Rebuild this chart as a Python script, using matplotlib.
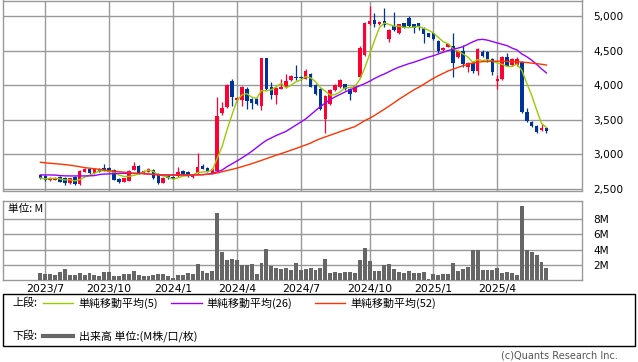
"""Weekly candlestick chart with 5/26/52-week SMAs and volume panel (out.png)."""
import numpy as np
import pandas as pd
import matplotlib
matplotlib.use("Agg")
import matplotlib.pyplot as plt  # noqa: E402
from matplotlib.lines import Line2D  # noqa: E402
from matplotlib.patches import Rectangle  # noqa: E402

W, H = 638, 362
CJK = ["Noto Sans CJK JP", "DejaVu Sans"]
GRID = "#999999"
UP, DOWN = "#FF0033", "#003399"

# weekly OHLC
open_ = [2704, 2690, 2622, 2627, 2675, 2661, 2584, 2666, 2569, 2743,
         2781, 2723, 2786, 2796, 2796, 2772, 2642, 2603, 2613, 2772,
         2834, 2723, 2743, 2772, 2714, 2588, 2690, 2675, 2685, 2762,
         2748, 2666, 2723, 2834, 2806, 2723, 2757, 3592, 3679, 4064,
         3785, 3785, 3944, 3804, 3799, 3698, 4392, 3968, 3857, 3949,
         3968, 4074, 4113, 4113, 4093, 4161, 4002, 3949, 3510, 3727,
         3929, 3968, 4011, 3944, 3905, 4113, 4436, 4884, 4942, 4884,
         4928, 4662, 4855, 4759, 4894, 4966, 4879, 4894, 4822, 4749,
         4749, 4643, 4508, 4556, 4566, 4402, 4498, 4267, 4325, 4204,
         4474, 4474, 4378, 4060, 4088, 4412, 4286, 4286, 4339, 3616,
         3471, 3408, 3350, 3384]
high = [2720, 2700, 2670, 2670, 2690, 2670, 2660, 2680, 2765, 2800,
        2795, 2800, 2800, 2859, 2810, 2790, 2650, 2660, 2765, 2883,
        2845, 2765, 2800, 2790, 2725, 2665, 2700, 2685, 2820, 2775,
        2760, 2710, 3023, 2855, 2820, 2805, 3833, 3760, 4015, 4088,
        3830, 3987, 3968, 3818, 3815, 4392, 4392, 4045, 3968, 4088,
        4161, 4150, 4291, 4130, 4228, 4175, 4015, 3960, 3850, 3940,
        4020, 4088, 4020, 3955, 3995, 4560, 4913, 5145, 5048, 4930,
        5111, 4810, 5063, 4890, 4905, 5000, 4890, 4905, 4835, 4760,
        4760, 4655, 4555, 4600, 4749, 4510, 4580, 4330, 4340, 4530,
        4508, 4490, 4390, 4146, 4425, 4460, 4385, 4402, 4350, 3664,
        3480, 3415, 3437, 3390]
low = [2640, 2615, 2612, 2620, 2590, 2550, 2575, 2560, 2550, 2735,
       2715, 2715, 2740, 2755, 2740, 2620, 2580, 2595, 2605, 2765,
       2715, 2715, 2735, 2640, 2575, 2580, 2640, 2640, 2675, 2705,
       2675, 2655, 2715, 2780, 2740, 2715, 2750, 3563, 3670, 3698,
       3775, 3698, 3659, 3650, 3715, 3640, 3930, 3804, 3732, 3940,
       3958, 4065, 4074, 4080, 4085, 3965, 3860, 3640, 3312, 3715,
       3920, 3958, 3935, 3785, 3895, 4100, 4420, 4875, 4846, 4870,
       4846, 4630, 4780, 4740, 4820, 4845, 4749, 4790, 4614, 4690,
       4650, 4469, 4490, 4545, 4112, 4390, 4267, 4195, 4170, 4146,
       4410, 4339, 4146, 3939, 4075, 4270, 4275, 4275, 3600, 3470,
       3390, 3310, 3340, 3310]
close = [2656, 2627, 2661, 2661, 2603, 2579, 2651, 2569, 2757, 2781,
         2723, 2786, 2748, 2762, 2748, 2627, 2603, 2651, 2752, 2834,
         2723, 2752, 2786, 2651, 2588, 2651, 2651, 2646, 2748, 2714,
         2685, 2699, 2820, 2791, 2748, 2791, 3558, 3674, 4002, 3823,
         3818, 3968, 3775, 3746, 3727, 4392, 3939, 3857, 3958, 3978,
         4064, 4137, 4098, 4098, 4209, 3978, 3871, 3659, 3842, 3929,
         4006, 4074, 3944, 3866, 3987, 4532, 4899, 4923, 4884, 4913,
         4870, 4797, 4797, 4879, 4831, 4855, 4831, 4846, 4735, 4701,
         4662, 4498, 4542, 4590, 4325, 4498, 4305, 4315, 4204, 4518,
         4426, 4378, 4195, 4084, 4412, 4281, 4373, 4373, 3616, 3486,
         3408, 3322, 3384, 3336]
volume_m = [0.93, 0.8, 0.8, 0.67, 1.07, 1.47, 0.67, 0.67, 0.93, 0.67,
            0.9, 0.67, 0.53, 1.07, 1.07, 0.53, 0.53, 0.8, 0.8, 1.2,
            0.67, 0.53, 0.53, 0.67, 0.8, 0.8, 0.53, 0.27, 0.67, 0.67,
            0.93, 0.8, 2.13, 1.2, 0.93, 1.2, 8.8, 3.73, 2.58, 2.8,
            2.67, 1.91, 2.0, 2.13, 0.8, 2.27, 4.13, 1.87, 1.6, 1.47,
            1.6, 1.33, 2.27, 1.33, 1.47, 1.6, 1.33, 1.6, 2.8, 0.93,
            1.07, 0.93, 1.07, 1.07, 0.93, 2.67, 4.27, 2.53, 1.2, 1.2,
            2.0, 2.13, 1.47, 1.07, 0.93, 1.2, 0.93, 0.93, 1.07, 0.13,
            0.8, 0.67, 0.8, 0.8, 2.27, 1.2, 1.47, 1.73, 4.0, 4.0,
            1.33, 1.33, 1.33, 1.6, 0.93, 1.07, 0.93, 0.67, 9.73, 4.0,
            3.73, 3.33, 2.4, 1.6]
# 26 / 52 week averages as drawn (they use history before the window)
sma26 = [2699, 2699, 2699, 2697, 2690, 2686, 2685, 2685, 2685, 2685,
         2686, 2690, 2705, 2712, 2714, 2720, 2723, 2723, 2723, 2724,
         2723, 2722, 2712, 2705, 2700, 2699, 2699, 2698, 2698, 2699,
         2699, 2699, 2700, 2702, 2710, 2724, 2745, 2770, 2820, 2860,
         2900, 2945, 2990, 3040, 3095, 3150, 3200, 3235, 3270, 3300,
         3330, 3375, 3420, 3465, 3510, 3570, 3630, 3690, 3740, 3790,
         3830, 3865, 3900, 3930, 3960, 3990, 4020, 4055, 4095, 4130,
         4160, 4195, 4230, 4260, 4285, 4310, 4330, 4355, 4380, 4405,
         4425, 4450, 4475, 4500, 4518, 4535, 4555, 4590, 4625, 4655,
         4662, 4650, 4630, 4610, 4590, 4570, 4535, 4508, 4450, 4410,
         4360, 4300, 4235, 4175]
sma52 = [2883, 2875, 2868, 2862, 2856, 2849, 2840, 2830, 2818, 2805,
         2797, 2789, 2780, 2771, 2762, 2755, 2747, 2740, 2731, 2723,
         2720, 2716, 2712, 2708, 2704, 2701, 2699, 2699, 2700, 2701,
         2702, 2702, 2703, 2705, 2709, 2714, 2728, 2745, 2763, 2780,
         2798, 2818, 2840, 2862, 2885, 2910, 2935, 2960, 2985, 3008,
         3032, 3058, 3082, 3108, 3133, 3160, 3195, 3225, 3250, 3275,
         3300, 3326, 3350, 3375, 3399, 3440, 3485, 3519, 3560, 3605,
         3650, 3697, 3745, 3795, 3840, 3885, 3930, 3968, 4010, 4055,
         4098, 4135, 4170, 4205, 4230, 4255, 4280, 4301, 4318, 4330,
         4339, 4342, 4344, 4345, 4345, 4343, 4340, 4338, 4333, 4326,
         4318, 4310, 4301, 4290]
label_months = [(2023, 7), (2023, 10), (2024, 1), (2024, 4),
                (2024, 7), (2024, 10), (2025, 1), (2025, 4)]
price_ticks = [2500, 3000, 3500, 4000, 4500, 5000]
vol_ticks = [2, 4, 6, 8]

weeks = pd.date_range("2023-06-26", periods=len(close), freq="W-MON")
x = np.arange(len(close))
sma5 = pd.Series(close).rolling(5, min_periods=1).mean()
# gridline = first weekly bar whose week starts in that month
month_pos = [int(np.argmax((weeks.year == y) & (weeks.month == m))) for y, m in label_months]
month_lbl = [f"{y}/{m}" for y, m in label_months]


def px_axes(fig, left, top, right, bottom):
    return fig.add_axes([left / W, 1 - bottom / H, (right - left) / W, (bottom - top) / H])


def style(ax):
    for s in ax.spines.values():
        s.set_color(GRID)
        s.set_linewidth(1.0)
    ax.grid(True, color=GRID, lw=1.0)
    ax.set_axisbelow(True)
    ax.yaxis.tick_right()
    ax.tick_params(axis="both", length=0, labelsize=7.6, colors="black")
    ax.tick_params(axis="y", pad=8)
    ax.set_xticks(month_pos)
    ax.set_xlim(-7.55, 110.3)


fig = plt.figure(figsize=(W / 100, H / 100), dpi=100)

ax1 = px_axes(fig, 3.3, 0.5, 582.3, 190.5)
style(ax1)
ax1.set_xticklabels([])
ax1.set_ylim(2474, 5224)
ax1.set_yticks(price_ticks)
ax1.set_yticklabels([f"{v:,}" for v in price_ticks])

o, h, l, c = map(np.array, (open_, high, low, close))
cols = np.where(c >= o, UP, DOWN)
ax1.vlines(x, l, h, colors=cols, lw=0.9, zorder=2)
body = np.maximum(np.abs(c - o), 14)
ax1.bar(x, body, bottom=np.minimum(o, c), width=0.72, color=cols, lw=0, zorder=3)
ax1.plot(x, sma5, color="#99CC00", lw=1.0, zorder=4)
ax1.plot(x, sma26, color="#9900FF", lw=1.0, zorder=4)
ax1.plot(x, sma52, color="#FF3300", lw=1.0, zorder=4)

ax2 = px_axes(fig, 3.3, 201.3, 582.3, 280.0)
style(ax2)
ax2.bar(x, volume_m, width=0.8, color="#666666", lw=0, zorder=3)
ax2.set_ylim(0, 10.36)
ax2.set_yticks(vol_ticks)
ax2.set_yticklabels([f"{v}M" for v in vol_ticks])
ax2.set_xticklabels(month_lbl)
ax2.tick_params(axis="x", pad=3, labelsize=7.8)
ax2.text(0.008, 0.9, "単位: M", transform=ax2.transAxes, fontsize=7.7,
         family=CJK, va="center", ha="left")


def ftext(px, py, s, **kw):
    fig.text(px / W, 1 - py / H, s, va="center", **kw)


def fline(x0, x1, py, **kw):
    fig.add_artist(Line2D([x0 / W, x1 / W], [1 - py / H] * 2, transform=fig.transFigure, **kw))


fig.add_artist(Rectangle((3.3 / W, 1 - 346 / H), (635 - 3.3) / W, 52 / H,
                         transform=fig.transFigure, fill=False, ec="black", lw=1.0))
ftext(12, 303, "上段:", fontsize=7.9, family=CJK)
fline(43, 73, 303, color="#99CC00", lw=1.0)
ftext(78, 303, "単純移動平均(5)", fontsize=7.9, family=CJK)
fline(171, 202, 303, color="#9900FF", lw=1.0)
ftext(206, 303, "単純移動平均(26)", fontsize=7.9, family=CJK)
fline(315, 345, 303, color="#FF3300", lw=1.0)
ftext(350, 303, "単純移動平均(52)", fontsize=7.9, family=CJK)
ftext(12, 336, "下段:", fontsize=7.9, family=CJK)
fline(43, 73, 336, color="#666666", lw=3.0)
ftext(79, 336, "出来高 単位:(M株/口/枚)", fontsize=7.9, family=CJK)
ftext(618, 356, "(c)Quants Research Inc.", fontsize=7, color="#555555", ha="right")

fig.savefig("out.png", dpi=100)
